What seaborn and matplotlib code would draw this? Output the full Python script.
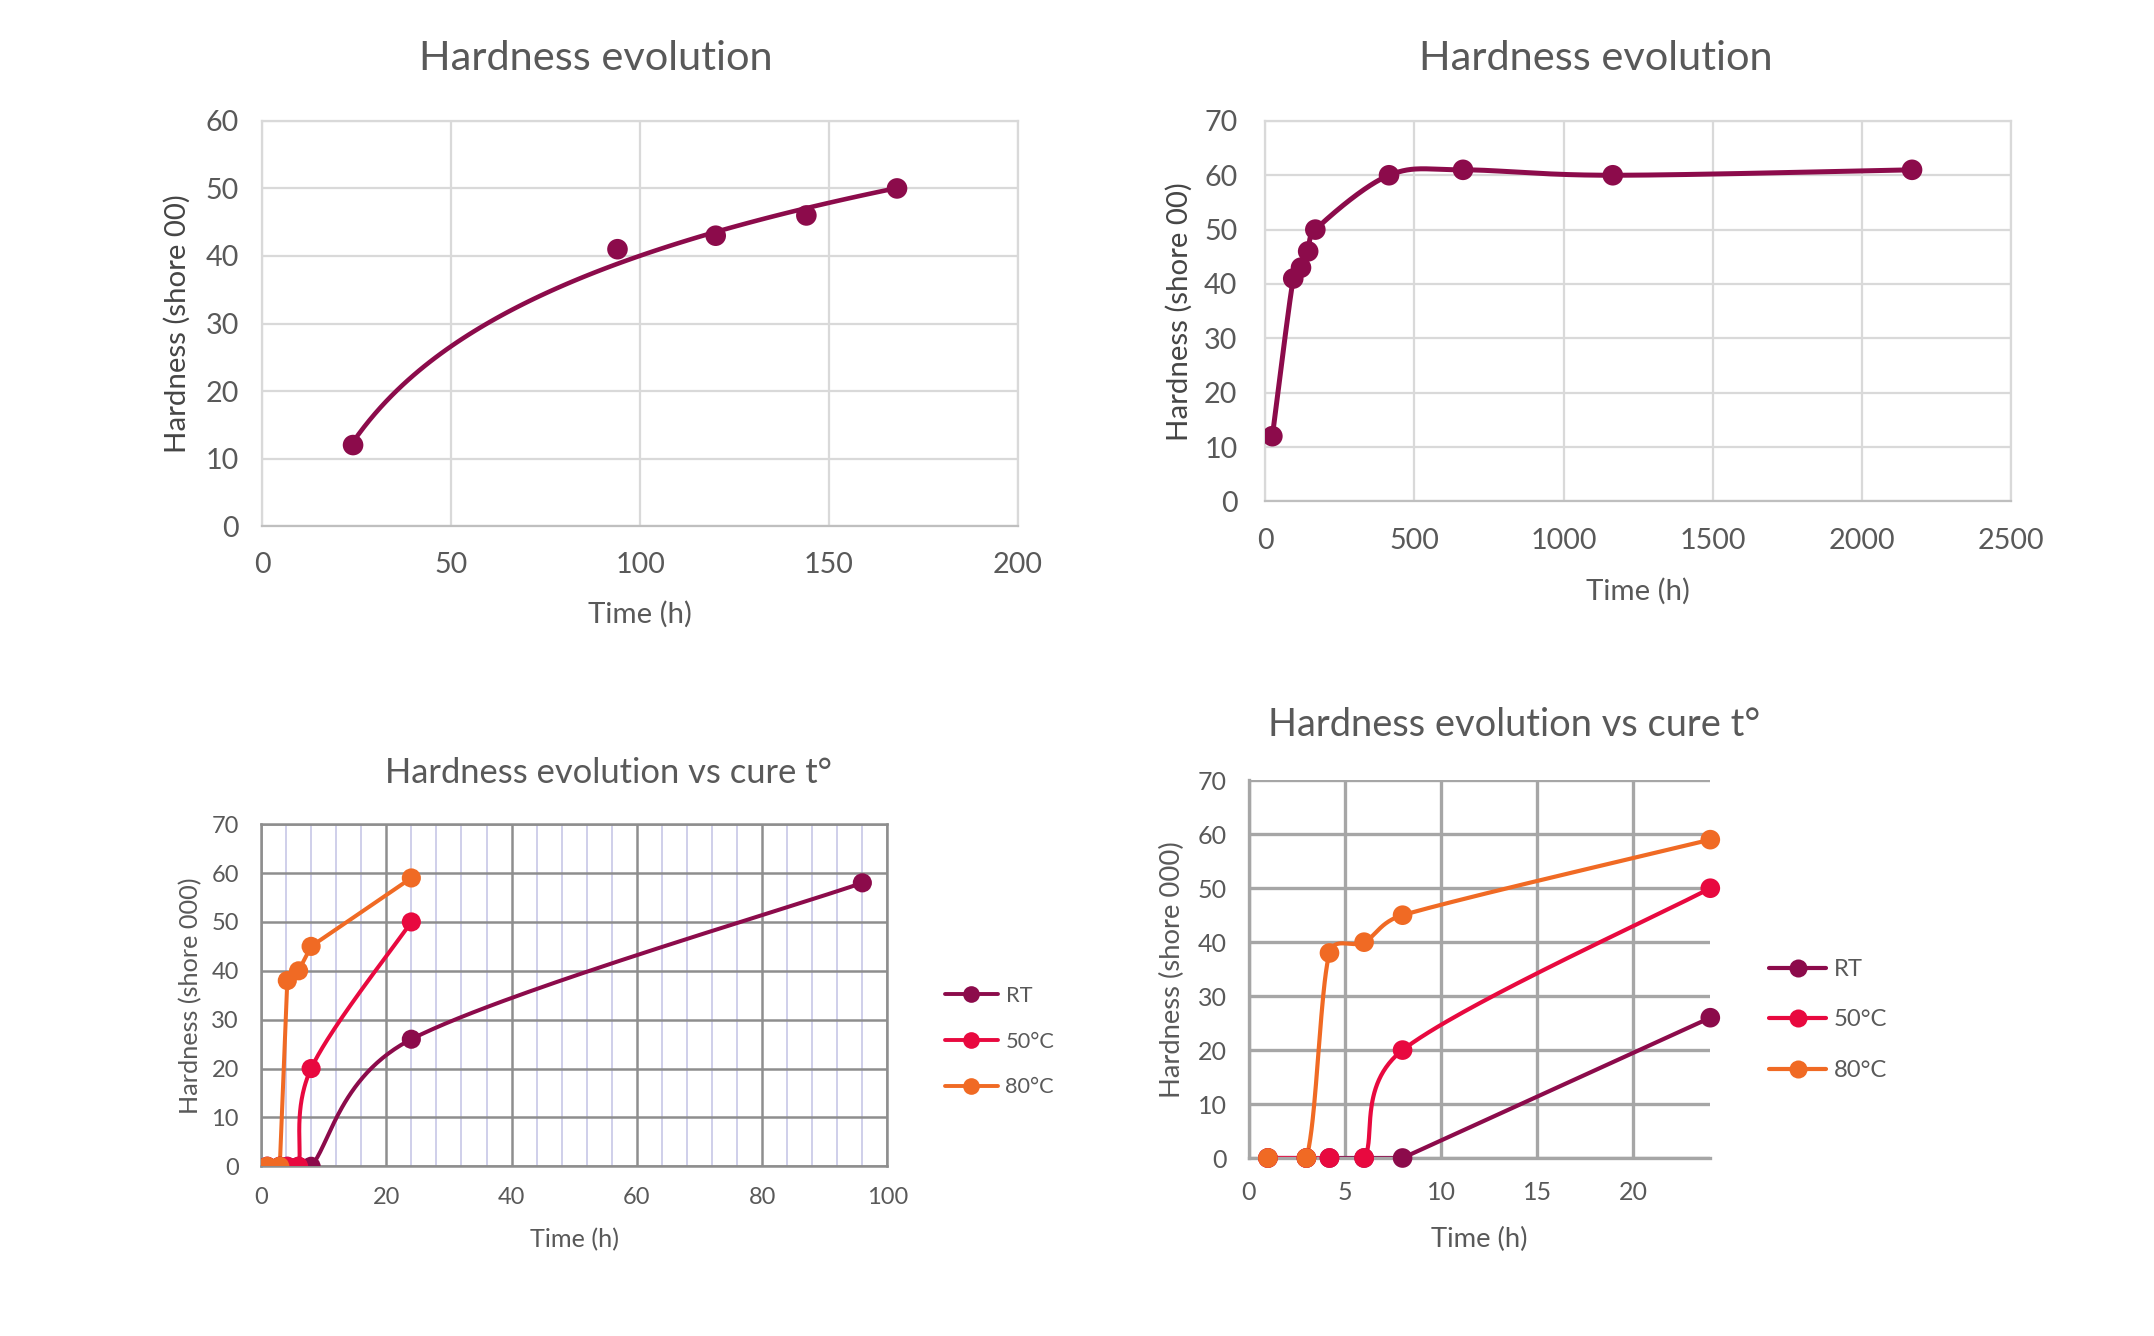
import numpy as np
import pandas as pd
import matplotlib
matplotlib.use("Agg")
import matplotlib.pyplot as plt
from matplotlib.lines import Line2D
from matplotlib.ticker import MultipleLocator, FixedLocator
import seaborn as sns

# ---------------- data ----------------
tl_time = [24, 94, 120, 144, 168]
tl_hardness = [12, 41, 43, 46, 50]

tr_time = [24, 94, 120, 144, 168, 415, 663, 1165, 2168]
tr_hardness = [12, 41, 43, 46, 50, 60, 61, 60, 61]

cure_time = [1, 3, 4.2, 6, 8, 24]
rt_hardness = [0, 0, 0, 0, 0, 26]
c50_hardness = [0, 0, 0, 0, 20, 50]
c80_hardness = [0, 0, 38, 40, 45, 59]
rt_extra_time = [96]
rt_extra_hardness = [58]
series_labels = ["RT", "50°C", "80°C"]

title_top = "Hardness evolution"
title_bottom = "Hardness evolution vs cure t°"
xlabel = "Time (h)"
ylabel_top = "Hardness (shore 00)"
ylabel_bottom = "Hardness (shore 000)"

# ---------------- style ----------------
sns.set_style("white")
plt.rcParams['font.family'] = ['Lato', 'DejaVu Sans']
TXT = "#595959"
MAROON = "#8C0B4B"
RED = "#E8093F"
ORANGE = "#F06A24"
palette = {"RT": MAROON, "50°C": RED, "80°C": ORANGE}

W, H = 2154, 1336
fig = plt.figure(figsize=(W / 100, H / 100), dpi=100)
fig.patch.set_facecolor("white")
renderer = fig.canvas.get_renderer()

# scale factor so Lato matches the width of the original (Calibri-like) text
probe = fig.text(0, 0, "Hardness evolution", fontsize=100)
k = (7.854 * 100 * 100 / 72) / probe.get_window_extent(renderer).width
probe.remove()


def fs(pt):
    return pt * k


def add_axes_px(left, top, right, bottom):
    return fig.add_axes([left / W, 1 - bottom / H, (right - left) / W, (bottom - top) / H])


def excel_smooth(ax, xs, ys, n=60, **kw):
    """Bezier smoothing in screen space (Excel-like 'smoothed line')."""
    pts = ax.transData.transform(np.column_stack([xs, ys]).astype(float))
    P = np.vstack([pts[0], pts, pts[-1]])
    segs = []
    t = np.linspace(0, 1, n)[:, None]
    for i in range(1, len(P) - 2):
        p0, p1, p2, p3 = P[i - 1], P[i], P[i + 1], P[i + 2]
        d12 = np.linalg.norm(p2 - p1)
        v1 = (p2 - p0) / 6
        v2 = (p3 - p1) / 6
        lim = d12 / 2
        n1, n2 = np.linalg.norm(v1), np.linalg.norm(v2)
        if n1 > lim and n1 > 0:
            v1 = v1 * lim / n1
        if n2 > lim and n2 > 0:
            v2 = v2 * lim / n2
        c1 = p1 + v1
        c2 = p2 - v2
        b = (1 - t) ** 3 * p1 + 3 * (1 - t) ** 2 * t * c1 + 3 * (1 - t) * t ** 2 * c2 + t ** 3 * p2
        segs.append(b if i == 1 else b[1:])
    curve = ax.transData.inverted().transform(np.vstack(segs))
    ax.plot(curve[:, 0], curve[:, 1], **kw)


def style_ticks(ax, size, xpad, ypad):
    ax.tick_params(axis='both', labelsize=fs(size), labelcolor=TXT, length=0)
    ax.tick_params(axis='x', pad=xpad)
    ax.tick_params(axis='y', pad=ypad)


# ---------------- top-left ----------------
ax1 = add_axes_px(262.4, 120.9, 1017.9, 526.1)
ax1.set_xlim(0, 200)
ax1.set_ylim(0, 60)
ax1.xaxis.set_major_locator(MultipleLocator(50))
ax1.xaxis.set_minor_locator(MultipleLocator(10))
ax1.yaxis.set_major_locator(MultipleLocator(10))
ax1.grid(True, which='major', color="#d9d9d9", lw=1.6)
ax1.set_axisbelow(True)
for s in ax1.spines.values():
    s.set_color("#d9d9d9")
    s.set_linewidth(1.6)
ax1.spines['bottom'].set_color("#bfbfbf")
style_ticks(ax1, 22.5, 11, 17)
ax1.tick_params(axis='x', which='major', length=8, width=1.3, color="#bfbfbf", direction='out')
ax1.tick_params(axis='x', which='minor', length=6, width=1.3, color="#bfbfbf", direction='out')
sns.regplot(x=tl_time, y=tl_hardness, logx=True, ci=None, ax=ax1,
            scatter_kws=dict(s=220, color=MAROON, edgecolor='none', alpha=1, zorder=3),
            line_kws=dict(color=MAROON, lw=3.3, zorder=2))
ax1.set_xlim(0, 200)
ax1.set_ylim(0, 60)
ax1.set_xlabel(xlabel, fontsize=fs(23), color=TXT, va='center')
ax1.set_ylabel(ylabel_top, fontsize=fs(23), color="#454545", va='center')
ax1.xaxis.set_label_coords(0.5, (526.1 - 614) / 405.2)
ax1.yaxis.set_label_coords((177 - 262.4) / 755.5, 0.5)
fig.text(596 / W, 1 - 59 / H, title_top, ha='center', va='center', fontsize=fs(32.4), color=TXT)

# ---------------- top-right ----------------
ax2 = add_axes_px(1265.2, 120.9, 2011.1, 501.4)
ax2.set_xlim(0, 2500)
ax2.set_ylim(0, 70)
ax2.xaxis.set_major_locator(MultipleLocator(500))
ax2.yaxis.set_major_locator(MultipleLocator(10))
ax2.grid(True, color="#d9d9d9", lw=1.6)
ax2.set_axisbelow(True)
for s in ax2.spines.values():
    s.set_color("#d9d9d9")
    s.set_linewidth(1.6)
ax2.spines['bottom'].set_color("#bfbfbf")
style_ticks(ax2, 22.5, 19, 20)
excel_smooth(ax2, tr_time, tr_hardness, color=MAROON, lw=3.6, zorder=2)
sns.scatterplot(x=tr_time, y=tr_hardness, ax=ax2, color=MAROON, s=220, edgecolor='none', zorder=3)
ax2.set_xlabel(xlabel, fontsize=fs(23), color=TXT, va='center')
ax2.set_ylabel(ylabel_top, fontsize=fs(23), color="#454545", va='center')
ax2.xaxis.set_label_coords(0.5, (501.4 - 591) / 380.5)
ax2.yaxis.set_label_coords((1179 - 1265.2) / 745.9, 0.5)
fig.text(1596 / W, 1 - 59 / H, title_top, ha='center', va='center', fontsize=fs(32.4), color=TXT)

# ---------------- long-form cure data ----------------
frames = []
for lab, vals in zip(series_labels, [rt_hardness, c50_hardness, c80_hardness]):
    frames.append(pd.DataFrame({"time": cure_time, "hardness": vals, "series": lab}))
frames.append(pd.DataFrame({"time": rt_extra_time, "hardness": rt_extra_hardness, "series": "RT"}))
cure = pd.concat(frames, ignore_index=True)


def legend_for(ax, fsize, handle_left, text_left, mid_y, pitch, lw, ms):
    fpx = fs(fsize) * 100 / 72
    handles = [Line2D([0], [0], color=palette[l], lw=lw, marker='o', markersize=ms,
                      markeredgewidth=0) for l in series_labels]
    leg = ax.legend(handles, series_labels, loc='center left', frameon=False,
                    bbox_to_anchor=(handle_left / W, 1 - mid_y / H),
                    bbox_transform=fig.transFigure, borderpad=0, borderaxespad=0,
                    fontsize=fs(fsize), labelcolor=TXT,
                    handlelength=(text_left - handle_left - 8) / fpx,
                    handletextpad=8 / fpx,
                    labelspacing=max(pitch / fpx - 0.9, 0.1))
    return leg


# ---------------- bottom-left ----------------
ax3 = add_axes_px(261.0, 824.2, 887.4, 1166.3)
ax3.set_xlim(0, 100)
ax3.set_ylim(0, 70)
ax3.xaxis.set_major_locator(MultipleLocator(20))
ax3.xaxis.set_minor_locator(MultipleLocator(4))
ax3.yaxis.set_major_locator(MultipleLocator(10))
ax3.grid(True, which='minor', axis='x', color="#cfcfea", lw=1.4)
ax3.grid(True, which='major', color="#8e8e8e", lw=1.8)
ax3.set_axisbelow(True)
for s in ax3.spines.values():
    s.set_color("#8e8e8e")
    s.set_linewidth(1.8)
style_ticks(ax3, 18.5, 15, 16)
ax3.tick_params(which='minor', length=0)
bl_rt = cure[cure.series == "RT"]
bl_50 = cure[cure.series == "50°C"]
bl_80 = cure[cure.series == "80°C"]
excel_smooth(ax3, bl_rt.time, bl_rt.hardness, color=MAROON, lw=2.9, zorder=2)
excel_smooth(ax3, bl_50.time, bl_50.hardness, color=RED, lw=2.9, zorder=2)
ax3.plot(bl_80.time, bl_80.hardness, color=ORANGE, lw=2.9, zorder=2)
for lab in series_labels:
    sub = cure[cure.series == lab]
    sns.scatterplot(data=sub, x="time", y="hardness", ax=ax3, color=palette[lab],
                    s=190, edgecolor='none', zorder=3, legend=False)
ax3.set_xlabel(xlabel, fontsize=fs(19.7), color=TXT, va='center')
ax3.set_ylabel(ylabel_bottom, fontsize=fs(19.7), color=TXT, va='center')
ax3.xaxis.set_label_coords(0.5, (1166.3 - 1240) / 342.1)
ax3.yaxis.set_label_coords((191 - 261) / 626.4, 0.5)
fig.text(608.6 / W, 1 - 773 / H, title_bottom, ha='center', va='center', fontsize=fs(27), color=TXT)
legend_for(ax3, 17, 945, 1005.5, 1041.5, 45.5, 2.8, 12)

# ---------------- bottom-right ----------------
ax4 = add_axes_px(1248.7, 780.3, 1710.3, 1158.0)
ax4.set_xlim(0, 24)
ax4.set_ylim(0, 70)
ax4.xaxis.set_major_locator(FixedLocator([0, 5, 10, 15, 20]))
ax4.yaxis.set_major_locator(MultipleLocator(10))
ax4.grid(True, color="#a6a6a6", lw=2.4)
ax4.set_axisbelow(True)
for side in ['top', 'right']:
    ax4.spines[side].set_visible(False)
for side in ['left', 'bottom']:
    ax4.spines[side].set_color("#a6a6a6")
    ax4.spines[side].set_linewidth(2.4)
style_ticks(ax4, 19.5, 16.5, 16)
br = cure[cure.time <= 24]
br_rt = br[br.series == "RT"]
br_50 = br[br.series == "50°C"]
br_80 = br[br.series == "80°C"]
ax4.plot(br_rt.time, br_rt.hardness, color=MAROON, lw=3.0, zorder=2)
excel_smooth(ax4, br_50.time, br_50.hardness, color=RED, lw=3.0, zorder=2)
excel_smooth(ax4, br_80.time, br_80.hardness, color=ORANGE, lw=3.0, zorder=2)
for lab in series_labels:
    sub = br[br.series == lab]
    sns.scatterplot(data=sub, x="time", y="hardness", ax=ax4, color=palette[lab],
                    s=200, edgecolor='none', zorder=3, legend=False, clip_on=False)
ax4.set_xlabel(xlabel, fontsize=fs(21.4), color=TXT, va='center')
ax4.set_ylabel(ylabel_bottom, fontsize=fs(21.4), color=TXT, va='center')
ax4.xaxis.set_label_coords(0.5, (1158 - 1239) / 377.7)
ax4.yaxis.set_label_coords((1172 - 1248.7) / 461.6, 0.5)
fig.text(1514 / W, 1 - 725 / H, title_bottom, ha='center', va='center', fontsize=fs(29.7), color=TXT)
legend_for(ax4, 18.7, 1769, 1834, 1020, 51, 3.0, 13)

fig.savefig("out.png", dpi=100, facecolor="white")
